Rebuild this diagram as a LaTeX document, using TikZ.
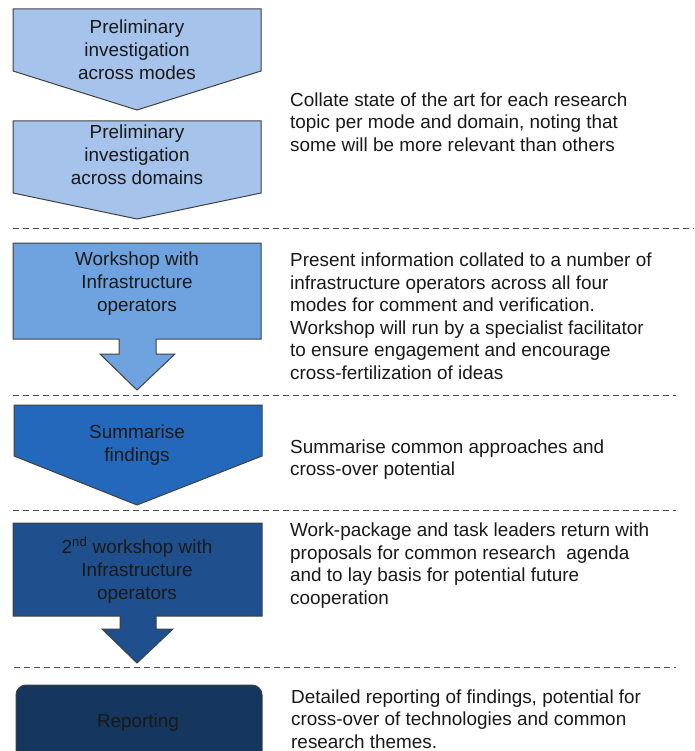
\documentclass[tikz,border=0pt]{standalone}
\usepackage{fontspec}
\setmainfont{Liberation Sans}

\definecolor{stageA}{HTML}{A5C3EB}
\definecolor{stageB}{HTML}{6FA3DF}
\definecolor{stageC}{HTML}{2368BA}
\definecolor{stageD}{HTML}{1F4F8D}
\definecolor{stageE}{HTML}{14365F}

\tikzset{
  stage/.style={draw=black!75,line width=1pt,line join=miter},
  boxtxt/.style={font=\fontsize{18.9}{23}\selectfont,align=center,inner sep=0,anchor=north,text=black!90},
  sidetxt/.style={font=\fontsize{18.9}{22.5}\selectfont,align=left,inner sep=0,anchor=north west,text=black!90},
  divider/.style={draw=black!70,line width=1pt,dash pattern=on 6pt off 4pt}
}

\begin{document}
\begin{tikzpicture}[x=1pt,y=-1pt]
\useasboundingbox(0,0)rectangle(694,751);
% stage shapes
\draw[stage,fill=stageA](13,9)--(261,9)--(261,71)--(137,110)--(13,71)--cycle;
\draw[stage,fill=stageA](13,121)--(261,121)--(261,193)--(137,219)--(13,193)--cycle;
\draw[stage,fill=stageB](13,243)--(261,243)--(261,339)--(156,339)--(156,354)--(175,354)--(137,390)--(100,354)--(119,354)--(119,339)--(13,339)--cycle;
\draw[stage,fill=stageC](14,405)--(262,405)--(262,456)--(137,505)--(14,456)--cycle;
\draw[stage,fill=stageD](13,523)--(262,523)--(262,616)--(156,616)--(156,629)--(173,629)--(137,663)--(102,629)--(120,629)--(120,616)--(13,616)--cycle;
\draw[stage,fill=stageE,rounded corners=10pt](16,765)rectangle(262,685);
% dividers
\draw[divider](13,228)--(694,228);\draw[divider](13,395)--(676,395);\draw[divider](13,510)--(676,510);\draw[divider](14,667)--(676,667);
% labels in the stages
\node[boxtxt](modes)at(137,17.4){\strut Preliminary\\investigation\\across modes};
\node[boxtxt](domains)at(137,121.9){\strut Preliminary\\investigation\\across domains};
\node[boxtxt](ws1)at(137,248.9){\strut Workshop with\\Infrastructure\\operators};
\node[boxtxt](summ)at(137,421.9){\strut Summarise\\findings};
\node[boxtxt](ws2)at(137,536.9){\strut 2\textsuperscript{nd} workshop with\\Infrastructure\\operators};
\node[boxtxt](rep)at(138,710.9){\strut Reporting};
% notes on the right
\node[sidetxt](collate)at(290,90.3){\strut Collate state of the art for each research\\topic per mode and domain, noting that\\some will be more relevant than others};
\node[sidetxt](present)at(290,251){\strut Present information collated to a number of\\infrastructure operators across all four\\modes for comment and verification.\\Workshop will run by a specialist facilitator\\to ensure engagement and encourage\\cross-fertilization of ideas};
\node[sidetxt](common)at(290,437.5){\strut Summarise common approaches and\\cross-over potential};
\node[sidetxt](leaders)at(290,521){\strut Work-package and task leaders return with\\proposals for common research\ \ agenda\\and to lay basis for potential future\\cooperation};
\node[sidetxt](detail)at(291,687.5){\strut Detailed reporting of findings, potential for\\cross-over of technologies and common\\research themes.};
\end{tikzpicture}
\end{document}
